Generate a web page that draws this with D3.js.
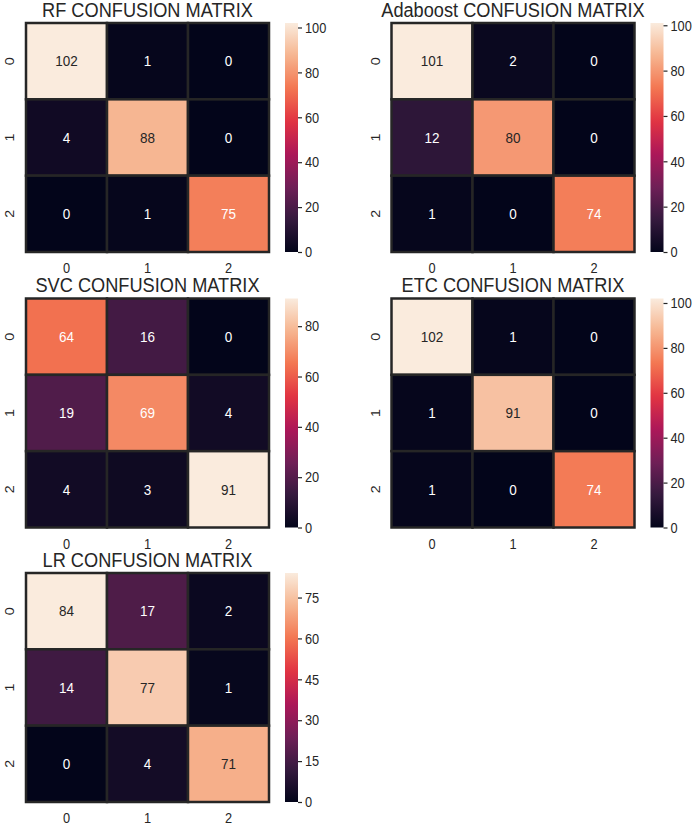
<!DOCTYPE html>
<html><head><meta charset="utf-8">
<script src="https://cdn.jsdelivr.net/npm/d3@7"></script>
<style>body{margin:0;background:#fff}svg{display:block}text{font-family:"Liberation Sans",Arial,sans-serif;fill:#262626}</style>
</head><body>
<script>
const classes = ["0","1","2"];
const titles = ["RF CONFUSION MATRIX","Adaboost CONFUSION MATRIX","SVC CONFUSION MATRIX","ETC CONFUSION MATRIX","LR CONFUSION MATRIX"];
const rfValues = [[102,1,0],[4,88,0],[0,1,75]];
const adaValues = [[101,2,0],[12,80,0],[1,0,74]];
const svcValues = [[64,16,0],[19,69,4],[4,3,91]];
const etcValues = [[102,1,0],[1,91,0],[1,0,74]];
const lrValues = [[84,17,2],[14,77,1],[0,4,71]];
const rfTicks = [0,20,40,60,80,100];
const adaTicks = [0,20,40,60,80,100];
const svcTicks = [0,20,40,60,80];
const etcTicks = [0,20,40,60,80,100];
const lrTicks = [0,15,30,45,60,75];
// rocket colormap samples
const rocketStops = ["#03051a","#35193e","#701f57","#ad1759","#e13342","#f37651","#f6b48f","#faebdd"];

const W = 696, H = 827;
const SY = 1.12; // vertical text stretch seen in the reference
const svg = d3.select("body").append("svg").attr("width", W).attr("height", H);
const rocket = d3.scaleLinear().domain(d3.range(rocketStops.length).map(i => i/(rocketStops.length-1))).range(rocketStops).interpolate(d3.interpolateRgb);

const panels = [
  {title: titles[0], values: rfValues, ticks: rfTicks, col: 0, row: 0},
  {title: titles[1], values: adaValues, ticks: adaTicks, col: 1, row: 0},
  {title: titles[2], values: svcValues, ticks: svcTicks, col: 0, row: 1},
  {title: titles[3], values: etcValues, ticks: etcTicks, col: 1, row: 1},
  {title: titles[4], values: lrValues, ticks: lrTicks, col: 0, row: 2}
];
const colX = [26, 391.5], rowY = [23, 298.5, 573];
const hmW = 243, hmH = 229, cbGap = 16, cbW = 13;

function lum(c) {
  const r = d3.rgb(c);
  const f = v => { v /= 255; return v <= 0.03928 ? v/12.92 : Math.pow((v+0.055)/1.055, 2.4); };
  return 0.2126*f(r.r) + 0.7152*f(r.g) + 0.0722*f(r.b);
}

const defs = svg.append("defs");
panels.forEach((p, pi) => {
  const x0 = colX[p.col], y0 = rowY[p.row];
  const g = svg.append("g").attr("transform", `translate(${x0},${y0})`);
  const flat = p.values.flat();
  const vmin = d3.min(flat), vmax = d3.max(flat);
  const norm = d3.scaleLinear().domain([vmin, vmax]).range([0, 1]);
  const x = d3.scaleBand().domain(classes).range([0, hmW]);
  const y = d3.scaleBand().domain(classes).range([0, hmH]);
  const cells = [];
  p.values.forEach((row, i) => row.forEach((v, j) => cells.push({i, j, v})));
  g.selectAll("rect.cell").data(cells).join("rect").attr("class","cell")
    .attr("x", d => x(classes[d.j])).attr("y", d => y(classes[d.i]))
    .attr("width", x.bandwidth()).attr("height", y.bandwidth())
    .attr("fill", d => rocket(norm(d.v)))
    .attr("stroke", "#262626").attr("stroke-width", 2.5);
  g.selectAll("text.ann").data(cells).join("text").attr("class","ann")
    .attr("transform", d => `translate(${x(classes[d.j]) + x.bandwidth()/2},${y(classes[d.i]) + y.bandwidth()/2}) scale(1,${SY})`)
    .attr("text-anchor","middle").attr("dominant-baseline","central")
    .style("font-size","13.5px")
    .style("fill", d => lum(rocket(norm(d.v))) > 0.408 ? "#262626" : "#ffffff")
    .text(d => d.v);
  // title
  g.append("text").attr("transform", `translate(${hmW/2},-6.5) scale(1,${SY})`).attr("text-anchor","middle")
    .style("font-size","18.2px").text(p.title);
  // x tick labels
  g.selectAll("text.xt").data(classes).join("text").attr("class","xt")
    .attr("transform", d => `translate(${x(d) + x.bandwidth()/2},${hmH + 21}) scale(1,${SY})`)
    .attr("text-anchor","middle").style("font-size","12.8px").text(d => d);
  // y tick labels (rotated)
  g.selectAll("text.yt").data(classes).join("text").attr("class","yt")
    .attr("transform", d => `translate(-12,${y(d) + y.bandwidth()/2}) rotate(-90) scale(${SY},1)`)
    .attr("text-anchor","middle").style("font-size","12.8px").text(d => d);
  // colorbar
  const gid = "grad" + pi;
  const grad = defs.append("linearGradient").attr("id", gid).attr("x1",0).attr("y1",1).attr("x2",0).attr("y2",0);
  d3.range(0, 1.0001, 0.02).forEach(t => grad.append("stop").attr("offset", t).attr("stop-color", rocket(t)));
  const cb = g.append("g").attr("transform", `translate(${hmW + cbGap},0)`);
  cb.append("rect").attr("width", cbW).attr("height", hmH).attr("fill", `url(#${gid})`);
  const cy = d3.scaleLinear().domain([vmin, vmax]).range([hmH, 0]);
  const ax = d3.axisRight(cy).tickValues(p.ticks).tickSize(4).tickPadding(3).tickFormat(d3.format("d"));
  const axg = cb.append("g").attr("transform", `translate(${cbW},0)`).call(ax);
  axg.select(".domain").remove();
  axg.selectAll("line").attr("stroke", "#262626").attr("stroke-width", 1.2);
  axg.selectAll("text")
    .attr("x", null).attr("dy", null)
    .attr("transform", `translate(7,0) scale(1,${SY})`)
    .attr("dominant-baseline","central")
    .style("font-size","12.8px").style("font-family",'"Liberation Sans",Arial,sans-serif').attr("fill","#262626");
});
</script>
</body></html>
